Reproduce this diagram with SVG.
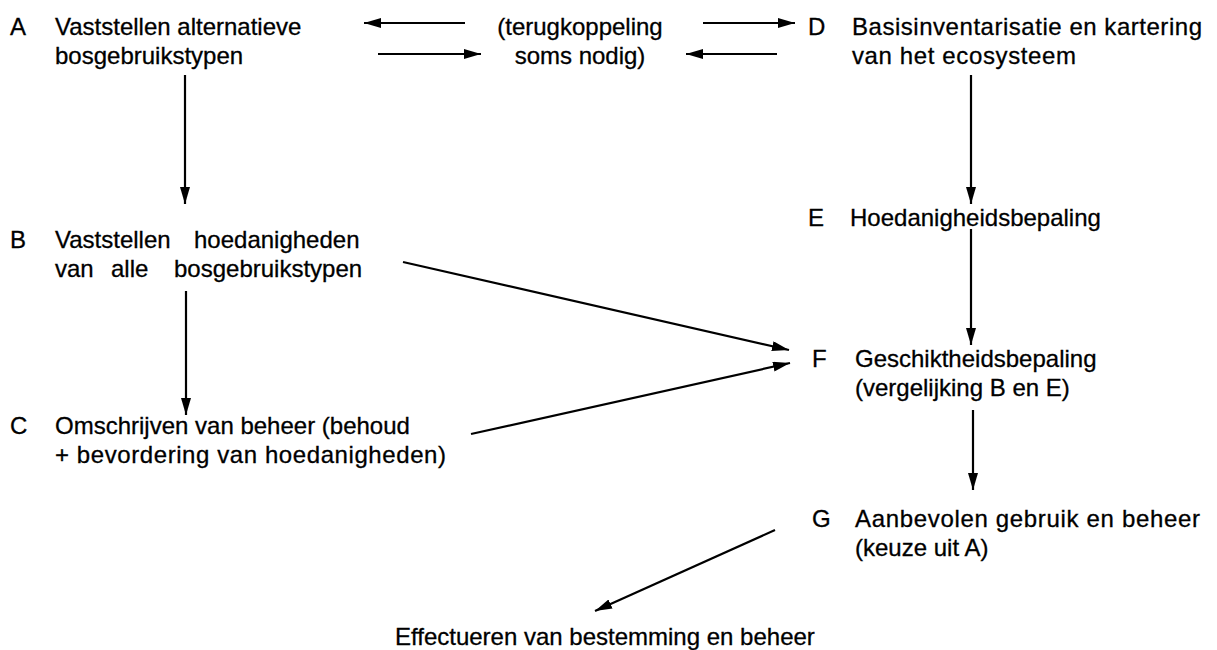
<svg xmlns="http://www.w3.org/2000/svg" width="1217" height="650" viewBox="0 0 1217 650">
<style>
text{font-family:"Liberation Sans",Arial,sans-serif;font-size:24px;fill:#000;stroke:#000;stroke-width:0.3}
.c line{stroke:#000;stroke-width:2.2;fill:none;marker-end:url(#ah)}
</style>
<defs>
<marker id="ah" viewBox="0 0 17 10" refX="17" refY="5" markerWidth="17" markerHeight="10" markerUnits="userSpaceOnUse" orient="auto">
<path d="M0,0 L17,5 L0,10 Z" fill="#000"/>
</marker>
</defs>
<rect width="1217" height="650" fill="#fff"/>
<g id="nodeA"><text x="10" y="35">A</text><text x="55" y="35">Vaststellen alternatieve</text><text x="55" y="64">bosgebruikstypen</text></g>
<g id="nodeFeedback"><text x="580" y="35" text-anchor="middle">(terugkoppeling</text><text x="580" y="64" text-anchor="middle">soms nodig)</text></g>
<g id="nodeD"><text x="808" y="35">D</text><text x="852" y="35" textLength="350" lengthAdjust="spacing">Basisinventarisatie en kartering</text><text x="852" y="64" textLength="224" lengthAdjust="spacing">van het ecosysteem</text></g>
<g id="nodeB"><text x="10" y="248">B</text><text x="55" y="248"><tspan x="55">Vaststellen</tspan><tspan x="194">hoedanigheden</tspan></text><text x="55" y="277"><tspan x="55">van</tspan><tspan x="111">alle</tspan><tspan x="174">bosgebruikstypen</tspan></text></g>
<g id="nodeC"><text x="10" y="434">C</text><text x="55" y="434">Omschrijven van beheer (behoud</text><text x="55" y="463" textLength="391" lengthAdjust="spacing">+ bevordering  van hoedanigheden)</text></g>
<g id="nodeE"><text x="808" y="226">E</text><text x="850" y="226">Hoedanigheidsbepaling</text></g>
<g id="nodeF"><text x="812" y="367">F</text><text x="855" y="367">Geschiktheidsbepaling</text><text x="855" y="396">(vergelijking B en E)</text></g>
<g id="nodeG"><text x="812" y="527">G</text><text x="855" y="527" textLength="345" lengthAdjust="spacing">Aanbevolen gebruik en beheer</text><text x="855" y="556">(keuze uit A)</text></g>
<g id="nodeH"><text x="395" y="645">Effectueren van bestemming en beheer</text></g>
<g id="connectors" class="c">
<line x1="465" y1="23" x2="364" y2="23"/>
<line x1="378" y1="54" x2="481" y2="54"/>
<line x1="703" y1="23" x2="795" y2="23"/>
<line x1="777" y1="54" x2="686" y2="54"/>
<line x1="185" y1="75" x2="185" y2="204"/>
<line x1="971" y1="75" x2="971" y2="204"/>
<line x1="186" y1="291" x2="186" y2="415"/>
<line x1="971" y1="229" x2="971" y2="345"/>
<line x1="403" y1="262" x2="789" y2="350"/>
<line x1="471" y1="434" x2="790" y2="363"/>
<line x1="973" y1="410" x2="973" y2="490"/>
<line x1="775" y1="530" x2="595" y2="611"/>
</g>
</svg>
